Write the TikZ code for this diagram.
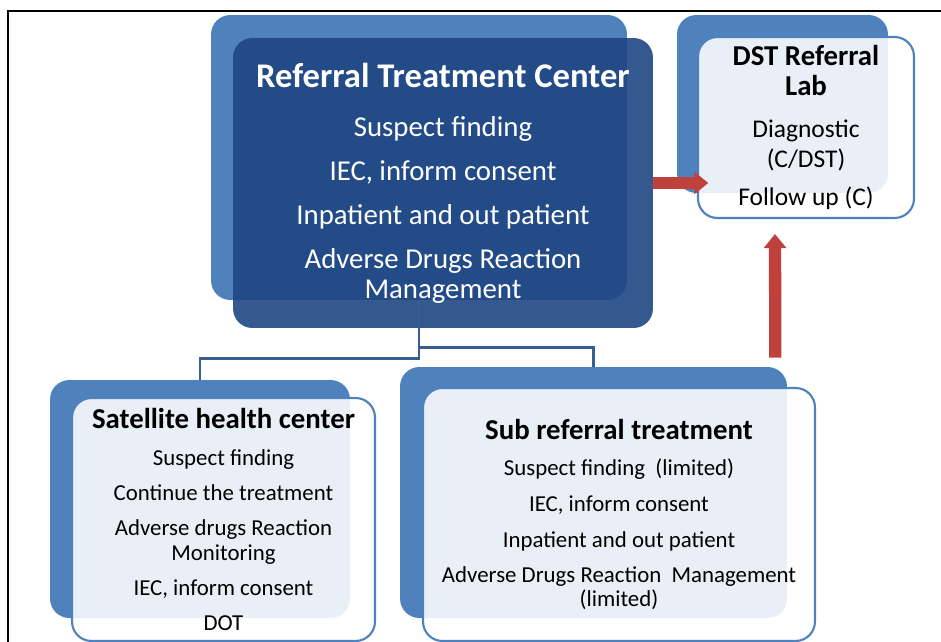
\documentclass[tikz,border=0pt]{standalone}
\usepackage{fontspec}
\setmainfont{Carlito}
\usepackage{tikz}
\usetikzlibrary{arrows.meta, positioning, calc}

\definecolor{backblue}{RGB}{79,129,189}
\definecolor{deepblue}{RGB}{31,70,130}
\definecolor{linkblue}{RGB}{54,95,145}
\definecolor{arrowred}{RGB}{192,64,60}

\newcommand{\boxhead}[1]{{\fontsize{16.4}{18}\selectfont\bfseries #1}}

\tikzset{
  backbox/.style={fill=backblue, rounded corners=11pt, inner sep=0pt},
  centerbox/.style={fill=deepblue, fill opacity=0.9, text opacity=1, text=white,
    rounded corners=11pt, align=center, inner sep=0pt},
  unitbox/.style={draw=backblue, line width=1.2pt, fill=white, fill opacity=0.88,
    text opacity=1, rounded corners=11pt, align=center, inner sep=0pt},
  link/.style={draw=linkblue, line width=1.6pt},
  redarrow/.style={draw=arrowred, line width=7pt, -{Triangle[width=12.5pt,length=8pt]}},
}

\begin{document}
\begin{tikzpicture}[x=0.02cm, y=-0.02cm]
\useasboundingbox (0,0) rectangle (941,642);

% frame
\draw[line width=1.1pt] (8,642) |- (941,11);

% shadow boxes behind
\node[backbox, minimum width=8.32cm, minimum height=5.7cm] (rtcback) at (419,157.5) {};
\node[backbox, minimum width=4.22cm, minimum height=3.56cm] (labback) at (782.5,104) {};
\node[backbox, minimum width=6cm, minimum height=4.76cm] (satback) at (200,499) {};
\node[backbox, minimum width=7.74cm, minimum height=5.02cm] (subback) at (593.5,492.5) {};

% referral treatment center
\node[centerbox, minimum width=8.4cm, minimum height=5.8cm,
  font=\fontsize{16.4}{17}\selectfont] (rtc) at (443,183)
  {{\fontsize{19.7}{22}\selectfont\bfseries Referral Treatment Center}\\[11pt]
   Suspect finding\\[8pt]
   IEC, inform consent\\[8pt]
   Inpatient and out patient\\[8pt]
   Adverse Drugs Reaction\\
   Management};

% DST lab
\node[unitbox, minimum width=4.32cm, minimum height=3.62cm,
  font=\fontsize{14.5}{17}\selectfont] (lab) at (806,127.5)
  {\boxhead{DST Referral}\\
   \boxhead{Lab}\\[7pt]
   Diagnostic\\
   (C/DST)\\[4.5pt]
   Follow up (C)};

% satellite health center
\node[unitbox, minimum width=6.06cm, minimum height=4.86cm,
  font=\fontsize{13}{14}\selectfont] (sat) at (223.5,519.5)
  {\boxhead{Satellite health center}\\[7pt]
   Suspect finding\\[6pt]
   Continue the treatment\\[6pt]
   Adverse drugs Reaction\\
   Monitoring\\[6pt]
   IEC, inform consent\\[6pt]
   DOT};

% sub referral treatment
\node[unitbox, minimum width=7.84cm, minimum height=5.06cm,
  font=\fontsize{13}{13.6}\selectfont] (sub) at (619,514.5)
  {\boxhead{Sub referral treatment}\\[7pt]
   Suspect finding\ \ (limited)\\[6.8pt]
   IEC, inform consent\\[6.8pt]
   Inpatient and out patient\\[6.8pt]
   Adverse Drugs Reaction\ \ Management\\
   (limited)};

% tree links
\draw[link] (rtcback.south) -- ++(0,58) -| (satback.north);
\draw[link] (rtcback.south) -- ++(0,47) -| (subback.north);

% red arrows to the lab
\draw[redarrow] (rtc.east) -- ++(55,0);
\draw[redarrow] ($(subback.north east)+(-12,-9)$) -- ($(lab.south)+(-31,15)$);
\end{tikzpicture}
\end{document}
